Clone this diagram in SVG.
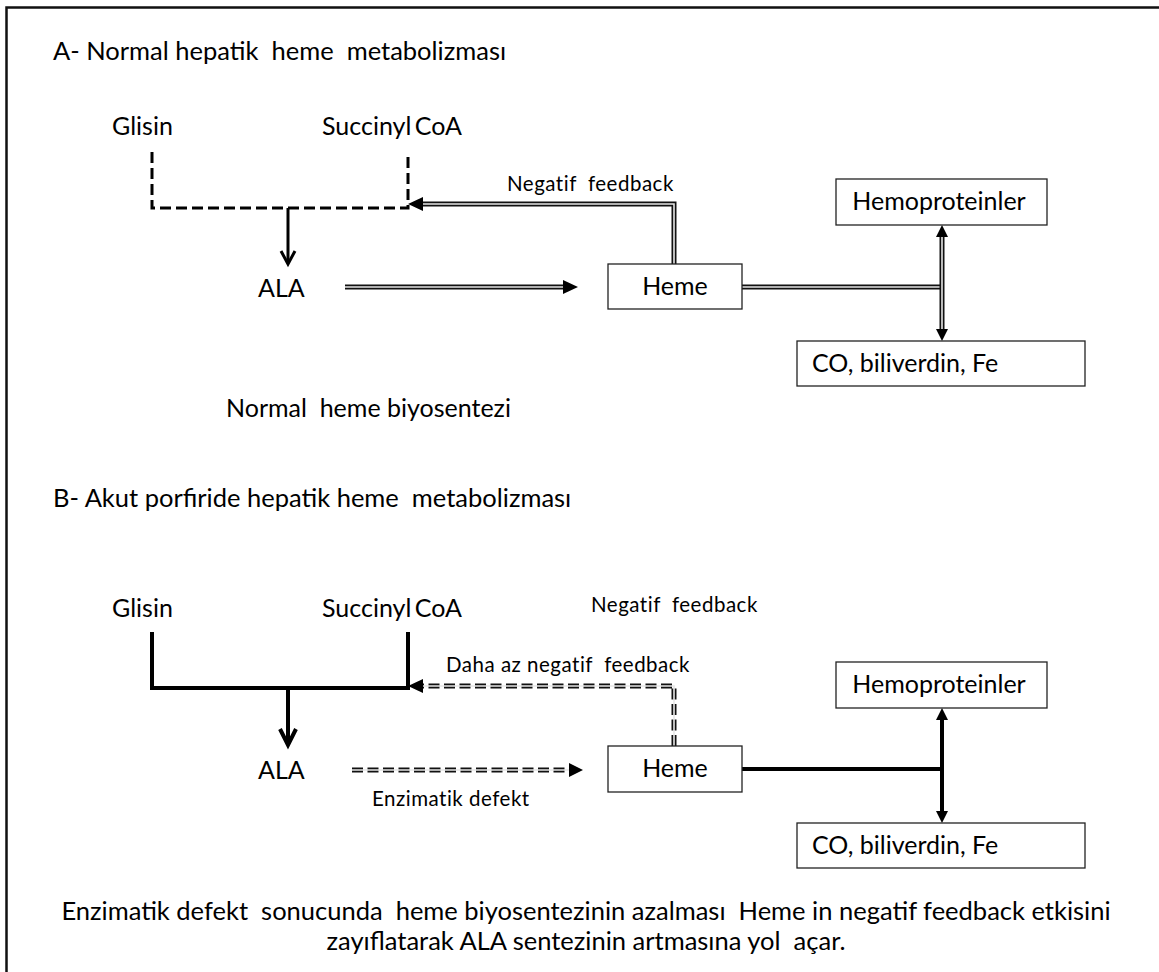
<svg xmlns="http://www.w3.org/2000/svg" width="1159" height="972" viewBox="0 0 1159 972" xml:space="preserve">
<defs>
<style>
text{font-family:Lato,"Liberation Sans",sans-serif;fill:#000;white-space:pre}
.t{font-size:25.5px}
.l{font-size:25px}
.s{font-size:20.5px;letter-spacing:0.5px}
.box{fill:#fff;stroke:#222;stroke-width:1.3}
.dbl{fill:none;stroke:#111;stroke-width:5}
.dblin{fill:none;stroke:#e6e6e6;stroke-width:1.6}
.dsh{stroke-dasharray:11 4.5}
.tri{fill:#000}
</style>
</defs>
<rect x="0" y="0" width="1159" height="972" fill="#fff"/>
<path d="M6.5,975 V7.5 H1165" fill="none" stroke="#111" stroke-width="2.5"/>

<text class="t" x="53" y="60">A- Normal hepatik  heme  metabolizması</text>
<text class="t" x="53" y="507">B- Akut porfiride hepatik heme  metabolizması</text>

<g id="connectors">
  <path d="M152,152 V208 H408 V152" fill="none" stroke="#000" stroke-width="3" stroke-dasharray="11 5"/>
  <path d="M288,208 V262" stroke="#000" stroke-width="3"/>
  <path d="M281,251 L288,264 L295,251" fill="none" stroke="#000" stroke-width="3"/>
  <path class="dbl" d="M345,287 H566"/>
  <path class="dblin" d="M345,287 H566"/>
  <path class="tri" d="M578,287 L563,280 L563,294 Z"/>
  <path class="dbl" d="M674,264 V204 H420"/>
  <path class="dblin" d="M674,264 V204 H420"/>
  <path class="tri" d="M408,204 L423,197 L423,211 Z"/>
  <path class="dbl" d="M742,287 H942"/>
  <path class="dblin" d="M742,287 H942"/>
  <path class="dbl" d="M942,235 V331"/>
  <path class="dblin" d="M942,235 V331"/>
  <path class="tri" d="M942,225 L936,237 L948,237 Z"/>
  <path class="tri" d="M942,341 L936,329 L948,329 Z"/>

  <path d="M152,632 V688 H408 V632" fill="none" stroke="#000" stroke-width="4"/>
  <path d="M288,688 V742" stroke="#000" stroke-width="4"/>
  <path d="M280,729 L288,745 L296,729" fill="none" stroke="#000" stroke-width="4"/>
  <path class="dbl dsh" d="M352,770 H571"/>
  <path class="dblin" d="M352,770 H571"/>
  <path class="tri" d="M583,770 L569,763 L569,777 Z"/>
  <path class="dbl dsh" d="M674,746 V686 H420"/>
  <path class="dblin" d="M674,746 V686 H420"/>
  <path class="tri" d="M408,686 L423,679 L423,693 Z"/>
  <path d="M742,769 H942" stroke="#000" stroke-width="4"/>
  <path d="M942,718 V813" stroke="#000" stroke-width="4"/>
  <path class="tri" d="M942,708 L936,720 L948,720 Z"/>
  <path class="tri" d="M942,823 L936,811 L948,811 Z"/>
</g>

<g id="A-glisin"><text class="l" x="112" y="135">Glisin</text></g>
<g id="A-succinyl"><text class="l" x="322" y="135" word-spacing="-3">Succinyl CoA</text></g>
<g id="A-ala"><text class="l" x="258" y="297">ALA</text></g>
<g id="A-feedback-label"><text class="s" x="507" y="191">Negatif  feedback</text></g>
<g id="A-heme"><rect class="box" x="608" y="264" width="134" height="45"/><text class="l" x="675" y="295" text-anchor="middle">Heme</text></g>
<g id="A-hemoproteinler"><rect class="box" x="836" y="179" width="211" height="46"/><text class="l" x="939" y="210" text-anchor="middle">Hemoproteinler</text></g>
<g id="A-co"><rect class="box" x="797" y="341" width="288" height="45"/><text class="l" x="812" y="372">CO, biliverdin, Fe</text></g>
<g id="A-caption"><text class="l" x="226" y="417">Normal  heme biyosentezi</text></g>

<g id="B-glisin"><text class="l" x="112" y="617">Glisin</text></g>
<g id="B-succinyl"><text class="l" x="322" y="617" word-spacing="-3">Succinyl CoA</text></g>
<g id="B-negatif-label"><text class="s" x="591" y="612">Negatif  feedback</text></g>
<g id="B-daha-label"><text class="s" x="446" y="672">Daha az negatif  feedback</text></g>
<g id="B-ala"><text class="l" x="258" y="779">ALA</text></g>
<g id="B-defekt-label"><text class="s" x="372" y="806">Enzimatik defekt</text></g>
<g id="B-heme"><rect class="box" x="608" y="746" width="134" height="46"/><text class="l" x="675" y="777" text-anchor="middle">Heme</text></g>
<g id="B-hemoproteinler"><rect class="box" x="836" y="662" width="211" height="46"/><text class="l" x="939" y="693" text-anchor="middle">Hemoproteinler</text></g>
<g id="B-co"><rect class="box" x="797" y="823" width="288" height="45"/><text class="l" x="812" y="854">CO, biliverdin, Fe</text></g>

<g id="note">
<text class="t" x="586" y="920" text-anchor="middle">Enzimatik defekt  sonucunda  heme biyosentezinin azalması  Heme in negatif feedback etkisini</text>
<text class="t" x="586" y="950" text-anchor="middle">zayıflatarak ALA sentezinin artmasına yol  açar.</text>
</g>
</svg>
